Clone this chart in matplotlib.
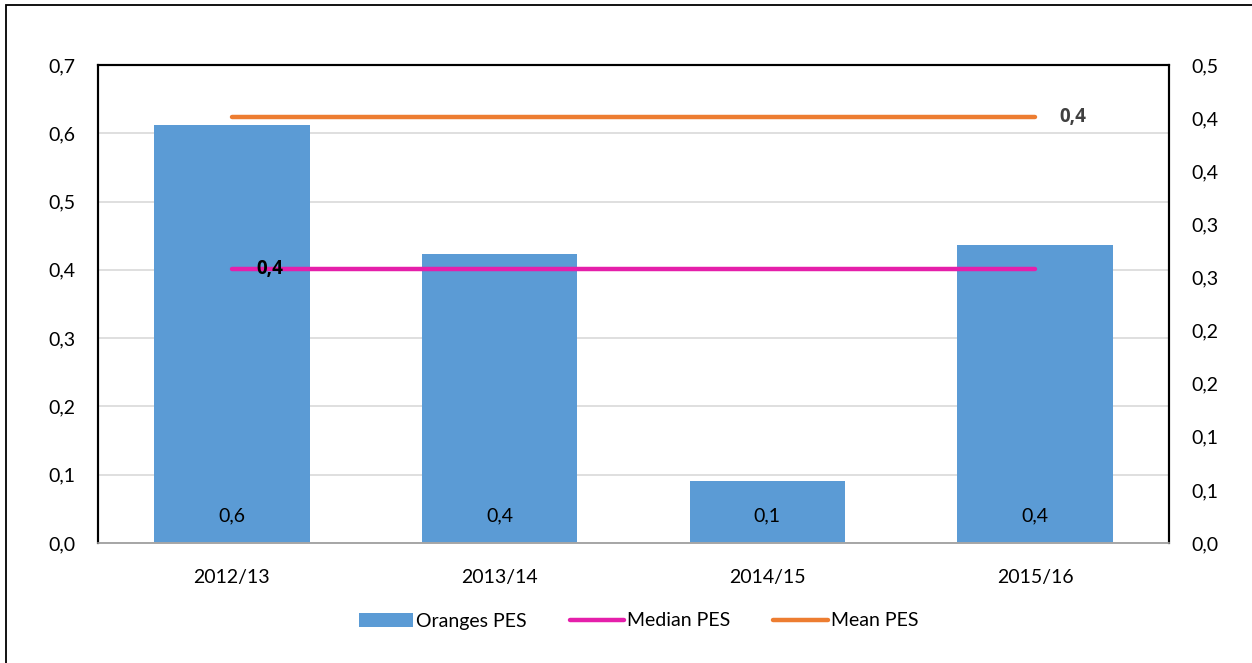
import math

import numpy as np
import matplotlib.pyplot as plt
from matplotlib.patches import Rectangle
from matplotlib.ticker import FuncFormatter, MultipleLocator

plt.rcParams['font.family'] = ['Lato', 'DejaVu Sans']

seasons = ['2012/13', '2013/14', '2014/15', '2015/16']
oranges_pes = [0.612, 0.423, 0.091, 0.436]
median_pes = [0.401, 0.401, 0.401, 0.401]   # primary axis
mean_pes = [0.401, 0.401, 0.401, 0.401]     # secondary axis (0 - 0.45)

bar_color = '#5B9BD5'
median_color = '#E51FAA'
mean_color = '#ED7D31'


def comma(v, pos=None):
    # excel style: round half up to one decimal
    r = math.floor(v * 10 + 0.5 + 1e-9) / 10
    return ('%.1f' % r).replace('.', ',')


fig = plt.figure(figsize=(12.52, 6.63), dpi=100)
fig.patches.append(Rectangle((6 / 1252, -0.05), 1.2, 1 - 5 / 663 + 0.05,
                             transform=fig.transFigure, fill=False,
                             edgecolor='black', lw=1.3))

ax = fig.add_axes([98 / 1252, 1 - 543 / 663, (1169 - 98) / 1252, (543 - 65) / 663])
ax2 = ax.twinx()

x = np.arange(len(seasons))
bars = ax.bar(x, oranges_pes, width=0.58, color=bar_color, zorder=2, label='Oranges PES')
med, = ax.plot(x, median_pes, color=median_color, lw=3.2, solid_capstyle='round',
               zorder=3, label='Median PES')
mean, = ax2.plot(x, mean_pes, color=mean_color, lw=3.2, solid_capstyle='round',
                 label='Mean PES')

ax.set_xlim(-0.5, len(seasons) - 0.5)
ax.set_ylim(0, 0.7)
ax2.set_ylim(0, 0.45)
ax.yaxis.set_major_locator(MultipleLocator(0.1))
ax2.yaxis.set_major_locator(MultipleLocator(0.05))
ax.yaxis.set_major_formatter(FuncFormatter(comma))
ax2.yaxis.set_major_formatter(FuncFormatter(comma))
ax.set_xticks(x)
ax.set_xticklabels(seasons)

ax.grid(axis='y', color='#D9D9D9', lw=1.2, zorder=0)
ax.set_axisbelow(True)
for a in (ax, ax2):
    for s in ('left', 'top', 'right'):
        a.spines[s].set_color('black')
        a.spines[s].set_linewidth(1.5)
    a.spines['bottom'].set_color('#A6A6A6')
    a.spines['bottom'].set_linewidth(1.2)
    a.tick_params(length=0, labelsize=14, colors='black')
ax.tick_params(axis='y', pad=16)
ax2.tick_params(axis='y', pad=16)
ax.tick_params(axis='x', pad=19)

for xi, v in zip(x, oranges_pes):
    ax.text(xi, 0.04, comma(v), ha='center', va='center', fontsize=14, color='black')

bold = ['Open Sans', 'DejaVu Sans']
ax.text(x[0] + 0.14, median_pes[0], comma(median_pes[0]), ha='center', va='center',
        fontsize=13.5, fontweight='bold', family=bold, color='black', zorder=4)
ax2.text(x[-1] + 0.14, mean_pes[-1], comma(mean_pes[-1]), ha='center', va='center',
         fontsize=13.5, fontweight='bold', family=bold, color='#404040')

fig.legend(handles=[bars, med, mean], loc='center', bbox_to_anchor=(0.51, 1 - 621 / 663),
           ncol=3, frameon=False, fontsize=14, handlelength=2.8, handletextpad=0.15,
           columnspacing=2.2)

fig.savefig('out.png', dpi=100)
